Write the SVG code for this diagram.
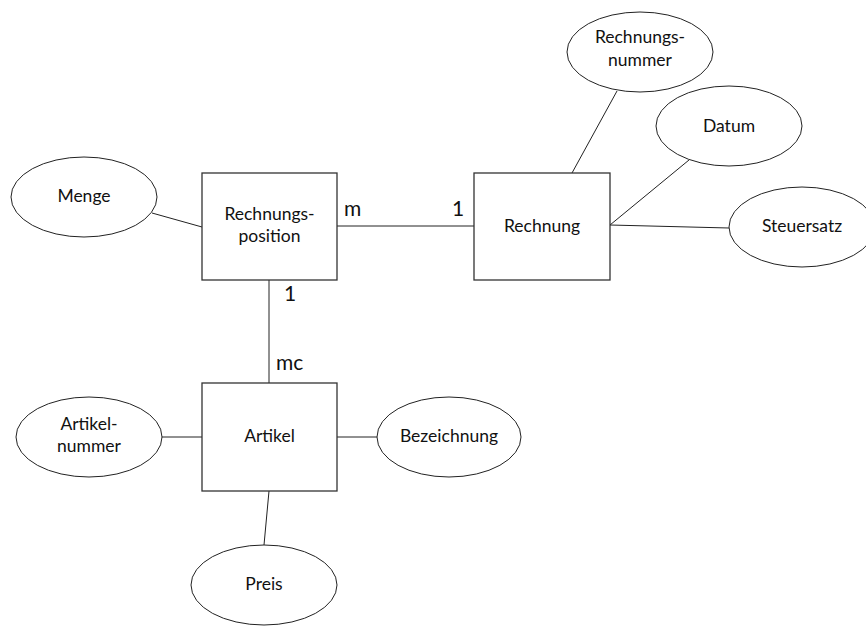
<svg xmlns="http://www.w3.org/2000/svg" width="866" height="626" viewBox="0 0 866 626">
<style>
.box{fill:#fff;stroke:#333;stroke-width:1.3}
.ell{fill:#fff;stroke:#222;stroke-width:1}
.ln{stroke:#222;stroke-width:1;fill:none}
text{font-family:Lato,"Liberation Sans",sans-serif;font-size:17.5px;fill:#111;text-anchor:middle}
.card{font-size:21px;text-anchor:start}
</style>
<rect width="866" height="626" fill="#fff"/>
<g id="connectors">
<line class="ln" x1="152" y1="213" x2="202" y2="227"/>
<line class="ln" x1="337" y1="226" x2="474" y2="226"/>
<line class="ln" x1="269" y1="280" x2="269" y2="383"/>
<line class="ln" x1="617" y1="91" x2="572" y2="173"/>
<line class="ln" x1="689" y1="160" x2="610" y2="225"/>
<line class="ln" x1="610" y1="225" x2="729" y2="228"/>
<line class="ln" x1="162" y1="437" x2="202" y2="437"/>
<line class="ln" x1="337" y1="437" x2="377" y2="437"/>
<line class="ln" x1="269" y1="491" x2="264" y2="545"/>
<text class="card" x="344" y="216">m</text>
<text class="card" x="452" y="216">1</text>
<text class="card" x="284" y="301">1</text>
<text class="card" x="276" y="370">mc</text>
</g>
<g id="rechnungsposition"><rect class="box" x="202" y="173" width="135" height="107"/><text x="269.5" y="220">Rechnungs-</text><text x="269.5" y="242">position</text></g>
<g id="rechnung"><rect class="box" x="474" y="173" width="136" height="107"/><text x="542" y="232">Rechnung</text></g>
<g id="artikel"><rect class="box" x="202" y="383" width="135" height="108"/><text x="269.5" y="442">Artikel</text></g>
<g id="menge"><ellipse class="ell" cx="84" cy="197" rx="73" ry="40"/><text x="84" y="202">Menge</text></g>
<g id="rechnungsnummer"><ellipse class="ell" cx="640" cy="52" rx="73" ry="40"/><text x="640" y="43">Rechnungs-</text><text x="640" y="66">nummer</text></g>
<g id="datum"><ellipse class="ell" cx="729" cy="126" rx="73" ry="40"/><text x="729" y="132">Datum</text></g>
<g id="steuersatz"><ellipse class="ell" cx="802" cy="227" rx="73" ry="40"/><text x="802" y="232">Steuersatz</text></g>
<g id="artikelnummer"><ellipse class="ell" cx="89" cy="437" rx="73" ry="40"/><text x="89" y="430">Artikel-</text><text x="89" y="452">nummer</text></g>
<g id="bezeichnung"><ellipse class="ell" cx="449" cy="437" rx="72" ry="40"/><text x="449" y="442">Bezeichnung</text></g>
<g id="preis"><ellipse class="ell" cx="264" cy="585" rx="73" ry="40"/><text x="264" y="590">Preis</text></g>
</svg>
